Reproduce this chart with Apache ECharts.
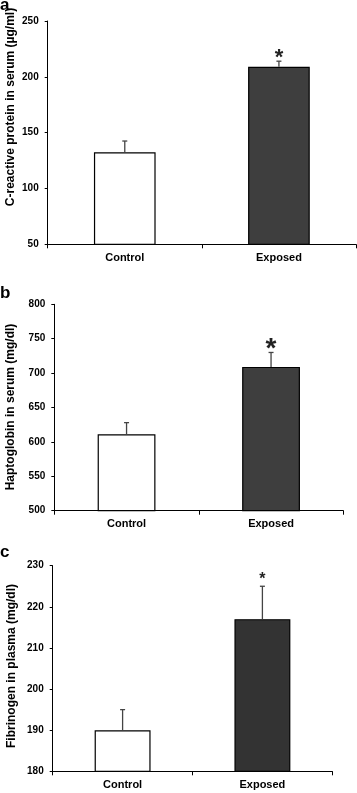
<!DOCTYPE html>
<html>
<head>
<meta charset="utf-8">
<script src="https://cdn.jsdelivr.net/npm/echarts@6/dist/echarts.min.js"></script>
<style>
html,body{margin:0;padding:0;background:#fff;}
#chart{width:357px;height:793px;}
</style>
</head>
<body>
<div id="chart"></div>
<script>
// ---- data ----
const categories = ['Control', 'Exposed'];
const significance = ['', '*'];

const crpMean = [132.5, 209];
const crpErr = [10, 5];
const crpTicks = { min: 50, max: 250, interval: 50 };

const hpMean = [611, 709];
const hpErr = [17, 21];
const hpTicks = { min: 500, max: 800, interval: 50 };

const fibMean = [190, 217];
const fibErr = [5, 8];
const fibTicks = { min: 180, max: 230, interval: 10 };

const panelLetters = ['a', 'b', 'c'];
const yTitles = [
  'C-reactive protein in serum (\u00b5g/ml)',
  'Haptoglobin in serum (mg/dl)',
  'Fibrinogen in plasma (mg/dl)'
];

// ---- styling / layout ----
const FONT = '"Liberation Sans", Arial, sans-serif';
const panels = [
  { mean: crpMean, err: crpErr, ticks: crpTicks, grid: { left: 47.7, top: 21, width: 308.3, height: 223.3 },
    dark: '#3e3e3e', starSize: 22, starGap: 9, titleX: 10.5, titleY: 107, letterY: 10 },
  { mean: hpMean, err: hpErr, ticks: hpTicks, grid: { left: 54.3, top: 304.3, width: 289, height: 206.4 },
    dark: '#3e3e3e', starSize: 28, starGap: 10.5, titleX: 11, titleY: 407, letterY: 298 },
  { mean: fibMean, err: fibErr, ticks: fibTicks, grid: { left: 52.7, top: 565.7, width: 279.6, height: 205.6 },
    dark: '#333333', starSize: 16, starGap: 11, titleX: 12, titleY: 666, letterY: 557 }
];

const grids = [], xAxes = [], yAxes = [], series = [], graphics = [];

panels.forEach((p, i) => {
  grids.push(Object.assign({ containLabel: false }, p.grid));
  xAxes.push({
    type: 'category', gridIndex: i, data: categories, boundaryGap: true,
    axisLine: { lineStyle: { color: '#000', width: 1 } },
    axisTick: { show: true, alignWithLabel: false, length: 4, lineStyle: { color: '#000' } },
    axisLabel: { color: '#000', fontWeight: 'bold', fontSize: 11, fontFamily: FONT, margin: 8 },
    splitLine: { show: false }
  });
  yAxes.push({
    type: 'value', gridIndex: i, min: p.ticks.min, max: p.ticks.max, interval: p.ticks.interval,
    axisLine: { show: true, lineStyle: { color: '#000', width: 1 } },
    axisTick: { show: true, length: 3, lineStyle: { color: '#000' } },
    axisLabel: { color: '#000', fontWeight: 'bold', fontSize: 10, fontFamily: FONT, margin: 9 },
    splitLine: { show: false }
  });
  series.push({
    type: 'bar', xAxisIndex: i, yAxisIndex: i, barWidth: '40%',
    data: p.mean.map((v, k) => ({
      value: v,
      itemStyle: { color: k === 0 ? '#ffffff' : p.dark, borderColor: '#000', borderWidth: 1.2 }
    })),
    animation: false
  });
  series.push({
    type: 'custom', xAxisIndex: i, yAxisIndex: i, z: 5, animation: false,
    data: p.mean.map((v, k) => [k, v, v + p.err[k], significance[k]]),
    renderItem: (params, api) => {
      const base = api.coord([api.value(0), api.value(1)]);
      const top = api.coord([api.value(0), api.value(2)]);
      const children = [
        { type: 'line', shape: { x1: base[0], y1: base[1], x2: top[0], y2: top[1] },
          style: { stroke: '#444', lineWidth: 1.3 } },
        { type: 'line', shape: { x1: top[0] - 2.5, y1: top[1], x2: top[0] + 2.5, y2: top[1] },
          style: { stroke: '#444', lineWidth: 1.3 } }
      ];
      const sig = significance[params.dataIndex];
      if (sig) {
        children.push({
          type: 'text',
          style: { text: sig, x: top[0], y: top[1] - p.starGap, align: 'center', verticalAlign: 'middle',
            font: 'bold ' + p.starSize + 'px ' + FONT, fill: '#222' },
          // asterisk glyph sits high in the em box; shift it down
          position: [0, p.starSize * 0.25]
        });
      }
      return { type: 'group', children };
    }
  });
  graphics.push({
    type: 'text', left: 0, top: p.letterY - 13,
    style: { text: panelLetters[i], font: 'bold 17px ' + FONT, fill: '#000' }
  });
  graphics.push({
    type: 'text', x: p.titleX, y: p.titleY, rotation: Math.PI / 2,
    style: { text: yTitles[i], font: 'bold 12px ' + FONT, fill: '#000', align: 'center', verticalAlign: 'middle' }
  });
});

const chart = echarts.init(document.getElementById('chart'), null, { renderer: 'canvas' });
chart.setOption({
  backgroundColor: '#ffffff',
  animation: false,
  grid: grids, xAxis: xAxes, yAxis: yAxes, series: series, graphic: graphics
});
</script>
</body>
</html>
